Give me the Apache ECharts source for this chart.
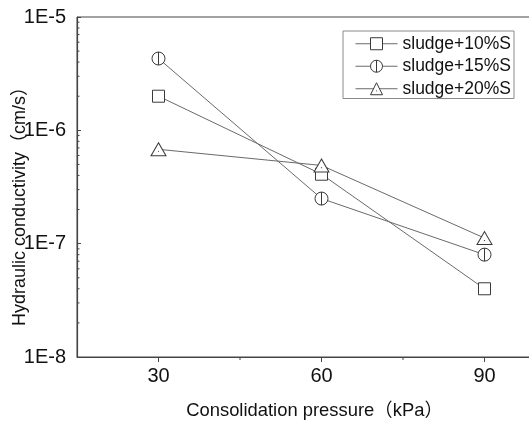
<!DOCTYPE html>
<html>
<head>
<meta charset="utf-8">
<script src="https://cdn.jsdelivr.net/npm/echarts@6/dist/echarts.min.js"></script>
<style>html,body{margin:0;padding:0;background:#fff;}#c{width:529px;height:421px;}</style>
</head>
<body>
<div id="c"></div>
<script>
const pressures = [30, 60, 90];
const sludge10 = [2.0e-6, 4.1e-7, 4.0e-8];
const sludge15 = [4.3e-6, 2.5e-7, 8.0e-8];
const sludge20 = [6.8e-7, 4.9e-7, 1.12e-7];
const seriesNames = ['sludge+10%S', 'sludge+15%S', 'sludge+20%S'];
const xTickValues = [30, 60, 90];
const xMinorTickValues = [45, 75];
const yMinorTickValues = [];
[1e-8, 1e-7, 1e-6].forEach(function (d) { for (let k = 2; k <= 9; k++) yMinorTickValues.push(+(k * d).toPrecision(3)); });

const FONT = '"Liberation Sans", Arial, "Noto Sans CJK SC", sans-serif';
const circleBar = 'path://M10,0A10,10,0,1,1,10,20A10,10,0,1,1,10,0ZM10,0L10,20';
const triDot = 'path://M10,0L20,17.32L0,17.32ZM10,11.2L10,12.4';

function pairs(vals) { return pressures.map(function (x, i) { return [x, vals[i]]; }); }

function lineSeries(name, vals, symbol, size) {
  return {
    name: name, type: 'line', data: pairs(vals), symbol: symbol, symbolSize: size,
    lineStyle: { color: '#6a6a6a', width: 1 },
    itemStyle: { color: '#fff', borderColor: '#3a3a3a', borderWidth: 1 },
    emphasis: { disabled: true }, z: 3
  };
}

const chart = echarts.init(document.getElementById('c'), null, { renderer: 'canvas' });
chart.setOption({
  animation: false,
  backgroundColor: '#fff',
  grid: { left: 77, top: 17, right: -37, bottom: 64, show: true, borderColor: '#444', borderWidth: 1, outerBoundsMode: 'none', containLabel: false },
  legend: {
    data: seriesNames, orient: 'vertical', left: 343, top: 31,
    padding: [4, 3, 1, 12], itemWidth: 42, itemHeight: 15, itemGap: 5,
    borderColor: '#888', borderWidth: 1, backgroundColor: '#fff',
    itemStyle: { color: '#fff', borderColor: '#3a3a3a', borderWidth: 1 },
    lineStyle: { color: '#6a6a6a', width: 1 },
    textStyle: { fontFamily: FONT, fontSize: 17.5, color: '#111' },
    selectedMode: false
  },
  xAxis: {
    type: 'value', min: 15, max: 105,
    name: 'Consolidation pressure（kPa）', nameLocation: 'middle', nameGap: 45, nameMoveOverlap: false,
    nameTextStyle: { fontFamily: FONT, fontSize: 18.4, color: '#111', padding: [0, 14, 0, 0] },
    axisLine: { show: true, lineStyle: { color: '#444', width: 1.2 } },
    axisTick: { show: true, inside: false, length: 5, customValues: xTickValues, lineStyle: { color: '#444' } },
    axisLabel: { customValues: xTickValues, fontFamily: FONT, fontSize: 20, color: '#111', margin: 9 },
    splitLine: { show: false }
  },
  yAxis: {
    type: 'log', logBase: 10, min: 1e-8, max: 1e-5,
    name: 'Hydraulic conductivity（cm/s）', nameLocation: 'middle', nameGap: 48, nameMoveOverlap: false,
    nameTextStyle: { fontFamily: FONT, fontSize: 18, color: '#111', padding: [0, 30, 0, 0] },
    axisLine: { show: true, lineStyle: { color: '#444', width: 1.2 } },
    axisTick: { show: true, inside: true, length: 4, lineStyle: { color: '#444' } },
    axisLabel: {
      fontFamily: FONT, fontSize: 20, color: '#111', margin: 11,
      formatter: function (v) { return '1E' + Math.round(Math.log10(v)); }
    },
    splitLine: { show: false }
  },
  series: [
    lineSeries(seriesNames[0], sludge10, 'rect', 12),
    lineSeries(seriesNames[1], sludge15, circleBar, 13),
    lineSeries(seriesNames[2], sludge20, triDot, [15, 13]),
    {
      type: 'custom', name: 'yminor', silent: true, clip: false, z: 4,
      data: yMinorTickValues.map(function (v) { return [15, v]; }),
      renderItem: function (params, api) {
        const p = api.coord([api.value(0), api.value(1)]);
        return { type: 'line', shape: { x1: p[0], y1: p[1], x2: p[0] + 2.5, y2: p[1] }, style: { stroke: '#444', lineWidth: 1 } };
      }
    },
    {
      type: 'custom', name: 'xminor', silent: true, clip: false, z: 4,
      data: xMinorTickValues.map(function (v) { return [v, 1e-8]; }),
      renderItem: function (params, api) {
        const p = api.coord([api.value(0), api.value(1)]);
        return { type: 'line', shape: { x1: p[0], y1: p[1], x2: p[0], y2: p[1] + 3 }, style: { stroke: '#444', lineWidth: 1 } };
      }
    }
  ]
});
</script>
</body>
</html>
